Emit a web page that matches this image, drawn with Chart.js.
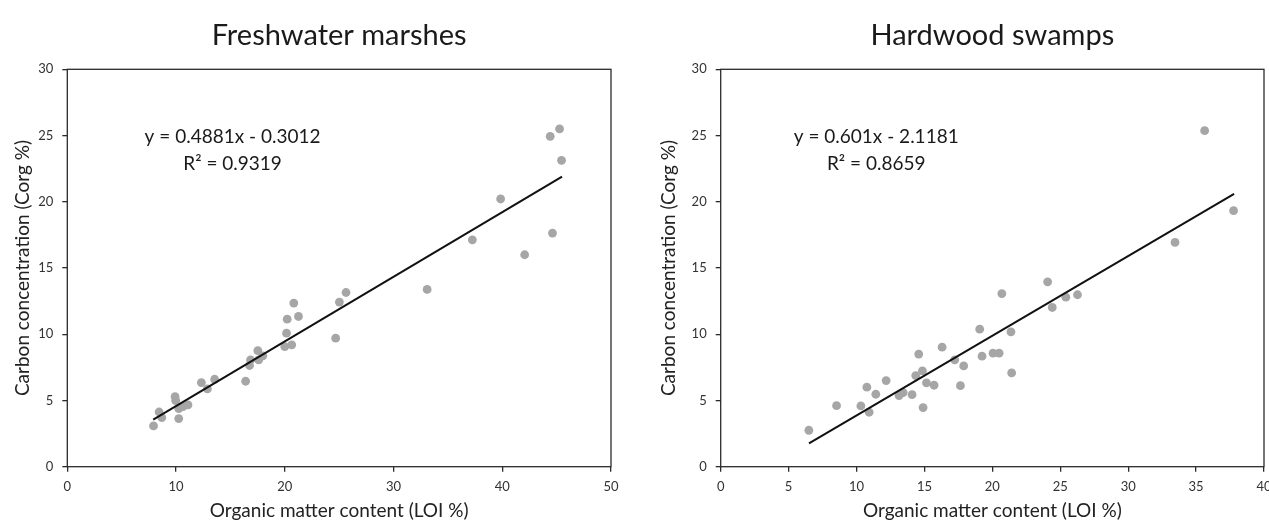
<!DOCTYPE html>
<html>
<head>
<meta charset="utf-8">
<script src="https://cdn.jsdelivr.net/npm/chart.js@4"></script>
<style>
html, body { margin: 0; padding: 0; background: #fff; overflow: hidden; width: 1269px; height: 525px; }
.box { position: absolute; top: 0; height: 525px; }
#b1 { left: 0; width: 640px; }
#b2 { left: 640px; width: 660px; }
</style>
</head>
<body>
<div class="box" id="b1"><canvas id="c1" width="640" height="525"></canvas></div>
<div class="box" id="b2"><canvas id="c2" width="660" height="525"></canvas></div>
<script>
// freshwater marshes: LOI % vs Corg %
const marshLOI = [7.93, 8.44, 8.69, 9.91, 9.97, 10.25, 10.25, 10.64, 11.1, 12.33, 12.88, 13.55,
  16.4, 16.76, 16.85, 17.52, 17.6, 17.98, 20.0, 20.16, 20.22, 20.64, 20.83, 21.26,
  24.68, 25.02, 25.63, 33.09, 37.25, 39.85, 42.06, 44.41, 45.27, 44.62, 45.45];
const marshCorg = [3.08, 4.13, 3.71, 5.29, 4.99, 3.63, 4.38, 4.54, 4.66, 6.35, 5.87, 6.6,
  6.45, 7.64, 8.06, 8.77, 8.06, 8.37, 9.07, 10.08, 11.14, 9.2, 12.35, 11.34,
  9.7, 12.43, 13.15, 13.38, 17.13, 20.21, 16.0, 24.94, 25.5, 17.64, 23.13];
const marshTrendX = [7.9, 45.5];
const marshTrendY = [3.55, 21.9];

// hardwood swamps
const swampLOI = [6.49, 8.53, 10.32, 10.76, 10.93, 11.42, 12.18, 13.13, 13.43, 14.09, 14.36, 14.58,
  14.85, 14.9, 15.15, 15.71, 16.3, 17.23, 17.65, 17.89, 19.07, 19.24, 20.05, 20.5,
  20.7, 21.37, 21.42, 24.07, 24.41, 25.41, 26.27, 33.45, 35.63, 37.76];
const swampCorg = [2.75, 4.61, 4.59, 6.0, 4.11, 5.47, 6.5, 5.37, 5.6, 5.44, 6.88, 8.5,
  7.23, 4.46, 6.33, 6.15, 9.02, 8.07, 6.12, 7.61, 10.38, 8.34, 8.57, 8.57,
  13.07, 10.18, 7.08, 13.96, 12.02, 12.8, 12.98, 16.93, 25.37, 19.33];
const swampTrendX = [6.5, 37.8];
const swampTrendY = [1.76, 20.6];

const yTicks = [0, 5, 10, 15, 20, 25, 30];

const FONT = 'Lato, "Open Sans", sans-serif';

// frame round the plot area + chart title + trendline equation
const extras = {
  id: 'extras',
  afterDraw(chart, args, o) {
    const ctx = chart.ctx, a = chart.chartArea;
    ctx.save();
    ctx.strokeStyle = '#2b2b2b';
    ctx.lineWidth = 1.3;
    ctx.strokeRect(a.left, a.top, a.right - a.left, a.bottom - a.top);
    ctx.fillStyle = '#1a1a1a';
    ctx.textAlign = 'center';
    ctx.textBaseline = 'alphabetic';
    ctx.font = '29px ' + FONT;
    ctx.fillText(o.title, (a.left + a.right) / 2, 45);
    ctx.font = '19px ' + FONT;
    const xs = chart.scales.x, ys = chart.scales.y;
    o.eq.forEach((t, i) => {
      ctx.fillText(t, xs.getPixelForValue(o.eqX), ys.getPixelForValue(o.eqY[i]));
    });
    ctx.restore();
  }
};

function makeChart(id, xs, ys, tx, ty, xMax, xStep, yAxisW, padRight, yTitlePad, ext) {
  const pts = xs.map((v, i) => ({ x: v, y: ys[i] }));
  const trend = tx.map((v, i) => ({ x: v, y: ty[i] }));
  return new Chart(document.getElementById(id), {
    type: 'scatter',
    data: {
      datasets: [{
        type: 'line',
        data: trend,
        borderColor: '#111',
        borderWidth: 2,
        pointRadius: 0,
        fill: false
      }, {
        data: pts,
        backgroundColor: '#a6a6a6',
        borderWidth: 0,
        pointRadius: 4.4
      }]
    },
    options: {
      responsive: false,
      animation: false,
      layout: { padding: { left: 0, right: padRight, top: 69.3, bottom: 0 } },
      plugins: { legend: { display: false }, tooltip: { enabled: false }, extras: ext },
      scales: {
        x: {
          type: 'linear', min: 0, max: xMax,
          ticks: { stepSize: xStep, color: '#333', font: { family: FONT, size: 13 }, padding: 7 },
          grid: { drawOnChartArea: false, drawTicks: true, tickLength: 5, color: '#2b2b2b', lineWidth: 1.3 },
          border: { display: false },
          title: { display: true, text: 'Organic matter content (LOI %)', color: '#222',
                   font: { family: FONT, size: 19 }, padding: { bottom: 3, top: 0 } },
          afterFit(s) { s.height = 58.3; }
        },
        y: {
          type: 'linear', min: 0, max: 30,
          afterBuildTicks(s) { s.ticks = yTicks.map(v => ({ value: v })); },
          ticks: { color: '#333', font: { family: FONT, size: 13 }, padding: 9 },
          grid: { drawOnChartArea: false, drawTicks: true, tickLength: 5, color: '#2b2b2b', lineWidth: 1.3 },
          border: { display: false },
          title: { display: true, text: 'Carbon concentration (Corg %)', color: '#222',
                   font: { family: FONT, size: 19 }, padding: { top: yTitlePad, bottom: 0 } },
          afterFit(s) { s.width = yAxisW; }
        }
      }
    },
    plugins: [extras]
  });
}

makeChart('c1', marshLOI, marshCorg, marshTrendX, marshTrendY, 50, 10, 67.3, 29, 11, {
  title: 'Freshwater marshes',
  eq: ['y = 0.4881x - 0.3012', 'R\u00b2 = 0.9319'], eqX: 15.2, eqY: [24.4, 22.4]
});
makeChart('c2', swampLOI, swampCorg, swampTrendX, swampTrendY, 40, 5, 80.7, 36, 17, {
  title: 'Hardwood swamps',
  eq: ['y = 0.601x - 2.1181', 'R\u00b2 = 0.8659'], eqX: 11.45, eqY: [24.4, 22.4]
});
</script>
</body>
</html>
